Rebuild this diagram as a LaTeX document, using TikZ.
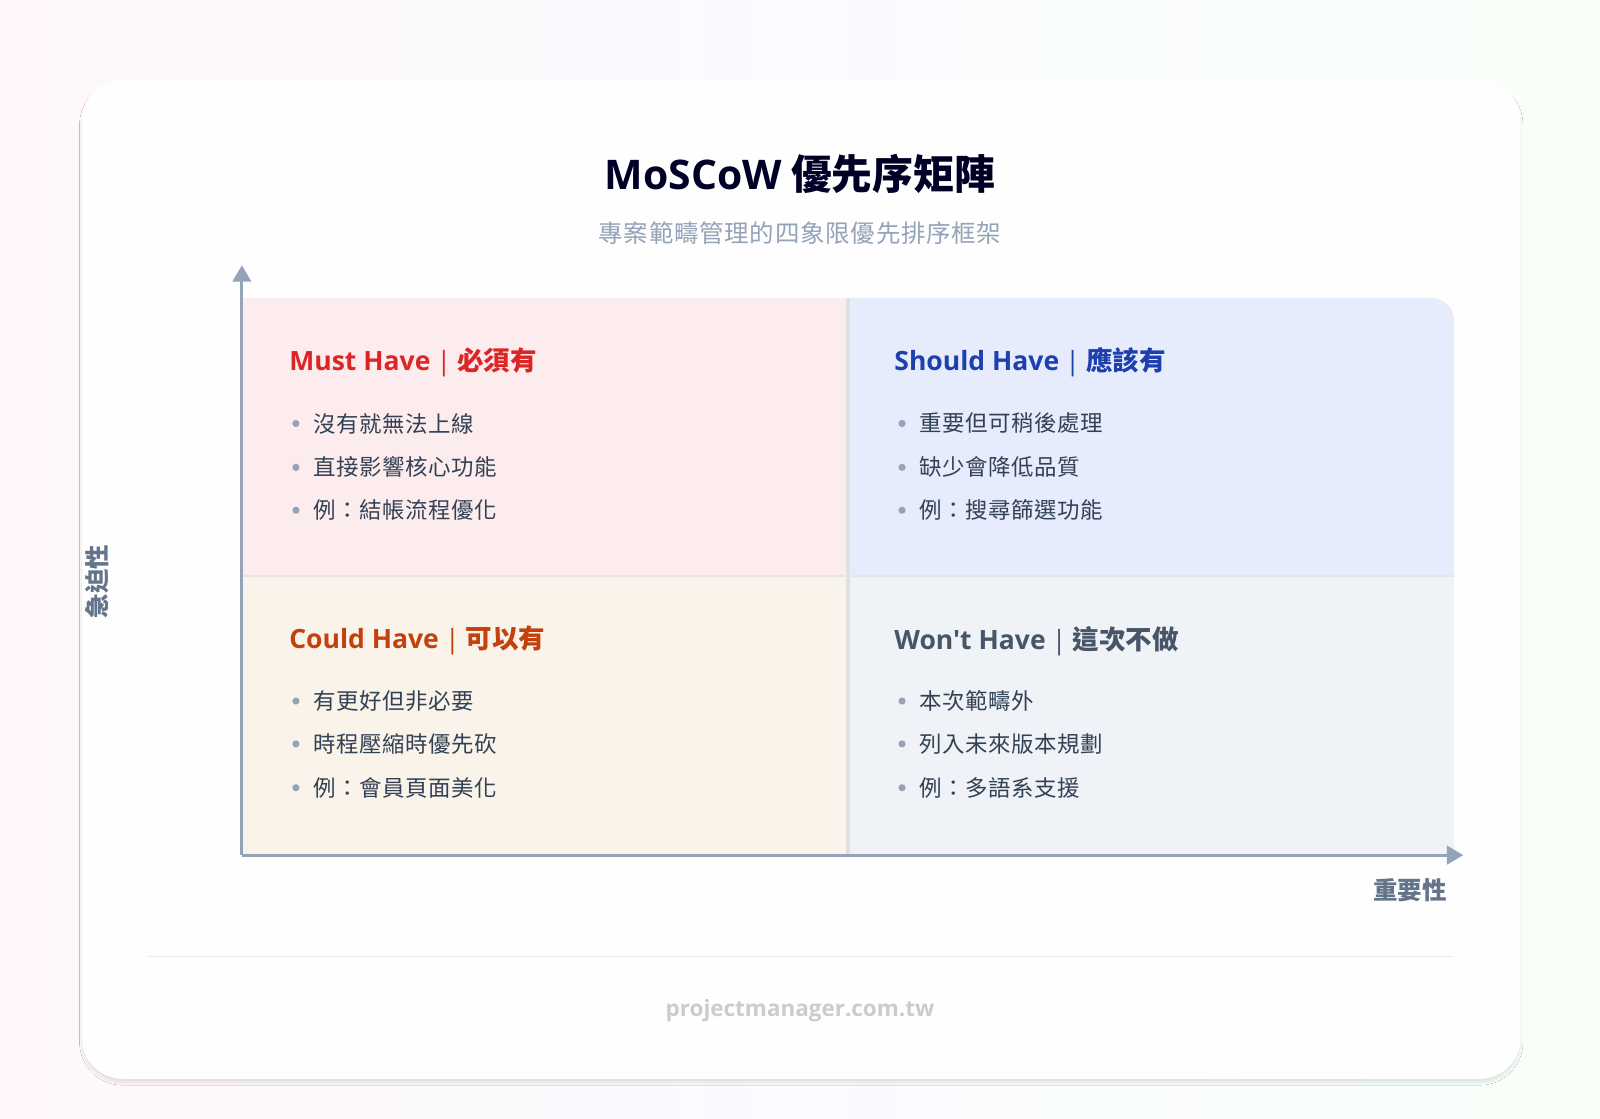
\documentclass[tikz,border=0pt]{standalone}
\usepackage{fontspec}
\setmainfont{Noto Sans CJK TC}
\newfontfamily\lat{Open Sans}
\usetikzlibrary{shadows.blur,arrows.meta}
\definecolor{axis}{HTML}{94A3B8}
\definecolor{txt}{HTML}{334155}
\definecolor{qred}{HTML}{FDECEE}
\definecolor{qblue}{HTML}{E6ECFB}
\definecolor{qora}{HTML}{F9F3EA}
\definecolor{qgray}{HTML}{EFF2F6}
\definecolor{cred}{HTML}{DC2626}
\definecolor{cblue}{HTML}{1E40AF}
\definecolor{cora}{HTML}{C2410C}
\definecolor{cgray}{HTML}{475569}
\definecolor{lab}{HTML}{64748B}
\newcommand\sepbar{\hspace{6pt}{\lat\mdseries|}\hspace{6pt}}
\tikzset{
 head/.style={anchor=west,font=\fontsize{26}{30}\selectfont\bfseries},
 item/.style={anchor=west,font=\fontsize{22}{26}\selectfont,text=txt},
 dot/.style={circle,fill=axis,inner sep=0pt,minimum size=7pt},
}
\begin{document}
\begin{tikzpicture}[x=1pt,y=-1pt]
\useasboundingbox (0,0) rectangle (1568,1096);
\shade[left color=red!3!white,right color=green!3!white,middle color=blue!2!white] (0,0) rectangle (1568,1096);
\node[draw=none,fill=white,fill opacity=0.97,rounded corners=40pt,blur shadow={shadow blur steps=12,shadow opacity=10,shadow xshift=0pt,shadow yshift=-4pt},minimum width=1410pt,minimum height=979pt,anchor=north west] (card) at (80,78) {};
\node[font=\fontsize{40}{44}\selectfont\bfseries,text=black!85!blue] (title) at (784,170) {{\lat\bfseries MoSCoW} 優先序矩陣};
\node[font=\fontsize{24}{28}\selectfont\addfontfeature{LetterSpace=3},text=axis] (sub) at (784,228) {專案範疇管理的四象限優先排序框架};
% quadrants
\fill[qred] (238,292) rectangle (831,564);
\fill[qblue] (831,292) -- (1403,292) arc[start angle=90,end angle=0,radius=22pt] -- (1425,564) -- (831,564) -- cycle;
\fill[qora] (238,564) rectangle (831,838);
\fill[qgray] (831,564) rectangle (1425,838);
\draw[line width=3pt,black!12] (831,292) -- (831,838);
\draw[line width=2pt,black!10] (238,564) -- (1425,564);
% axes
\coordinate (o) at (237,838);
\coordinate (ytip) at (237,260);
\coordinate (xtip) at (1434,838);
\draw[axis,line width=3pt,-{Triangle[length=16pt,width=18pt]}] (o) -- (ytip);
\draw[axis,line width=3pt,-{Triangle[length=16pt,width=18pt]}] (o) -- (xtip);
\node[rotate=90,font=\fontsize{24}{28}\selectfont\bfseries,text=lab] (ylab) at (95,570) {急迫性};
\node[font=\fontsize{24}{28}\selectfont\bfseries,text=lab] (xlab) at (1382,872) {重要性};
% headings
\node[head,text=cred] (h1) at (280,355) {{\lat\bfseries Must Have}\sepbar 必須有};
\node[head,text=cblue] (h2) at (873,355) {{\lat\bfseries Should Have}\sepbar 應該有};
\node[head,text=cora] (h3) at (280,628) {{\lat\bfseries Could Have}\sepbar 可以有};
\node[head,text=cgray] (h4) at (873,628) {{\lat\bfseries Won't Have}\sepbar 這次不做};
% items
\foreach \x/\y/\t [count=\i] in {
 290/415/沒有就無法上線, 290/458/直接影響核心功能, 290/500/例：結帳流程優化,
 884/415/重要但可稍後處理, 884/458/缺少會降低品質, 884/500/例：搜尋篩選功能,
 290/687/有更好但非必要, 290/729/時程壓縮時優先砍, 290/772/例：會員頁面美化,
 884/687/本次範疇外, 884/729/列入未來版本規劃, 884/772/例：多語系支援}{
 \node[dot] (d\i) at (\x,\y) {};
 \node[item] (t\i) at (\x+14,\y) {\addfontfeature{LetterSpace=2}\t};
}
% footer
\draw[black!8,line width=1pt] (145,937) -- (1425,937);
\node[font=\fontsize{22}{26}\selectfont\lat\bfseries,text=black!20!white] (foot) at (784,990) {projectmanager.com.tw};
\end{tikzpicture}
\end{document}
